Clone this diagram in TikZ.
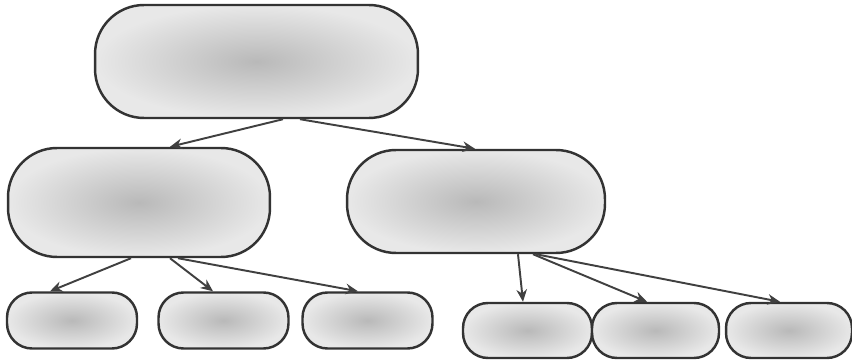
\documentclass[tikz,border=0pt]{standalone}
\usepackage{xcolor}
\usepackage{tikz}
\usetikzlibrary{arrows.meta, calc}

\begin{document}
\begin{tikzpicture}[x=0.02cm, y=-0.02cm,
  pill/.style={draw=black!80, line width=1.4pt, inner sep=0pt,
    inner color=gray!55, outer color=gray!18},
  bigpill/.style={pill, rounded corners=0.98cm},
  smallpill/.style={pill, rounded corners=0.5cm,
    minimum width=2.6cm, minimum height=1.12cm},
  link/.style={draw=black!75, line width=1.1pt, -{Stealth[length=7pt, width=6pt]}}]
\useasboundingbox (0,0) rectangle (852,361);

% ============= TOP: root =============
\node[bigpill, minimum width=6.46cm, minimum height=2.26cm] (root) at (256.5,61.5) {};

% ============= MIDDLE: two children =============
\node[bigpill, minimum width=5.24cm, minimum height=2.18cm] (left) at (139,202.5) {};
\node[bigpill, minimum width=5.16cm, minimum height=2.06cm] (right) at (476,201.5) {};

% ============= BOTTOM: leaves =============
% left group
\node[smallpill] (la) at (72,320.5) {};
\node[smallpill] (lb) at (223.5,320.5) {};
\node[smallpill] (lc) at (367.5,320.5) {};
% right group, slightly lower
\node[smallpill, minimum width=2.58cm, minimum height=1.1cm] (ra) at (527.5,330.5) {};
\node[smallpill, minimum width=2.54cm, minimum height=1.1cm] (rb) at (655.5,330.5) {};
\node[smallpill, minimum width=2.52cm, minimum height=1.1cm] (rc) at (789,330.5) {};

% --- connectors ---
\draw[link] ([xshift=0.53cm]root.south) -- ([xshift=0.62cm]left.north);
\draw[link] ([xshift=0.87cm]root.south) -- ([xshift=-0.02cm]right.north);

\draw[link] ([xshift=-0.16cm]left.south) -- ([xshift=-0.44cm]la.north);
\draw[link] ([xshift=0.62cm]left.south) -- ([xshift=-0.21cm]lb.north);
\draw[link] ([xshift=0.78cm]left.south) -- ([xshift=-0.19cm]lc.north);

\draw[link] ([xshift=0.84cm]right.south) -- ([xshift=-0.09cm]ra.north);
\draw[link] ([xshift=1.14cm]right.south) -- ([xshift=-0.17cm]rb.north);
\draw[link] ([xshift=1.2cm]right.south) -- ([xshift=-0.18cm]rc.north);
\end{tikzpicture}
\end{document}
